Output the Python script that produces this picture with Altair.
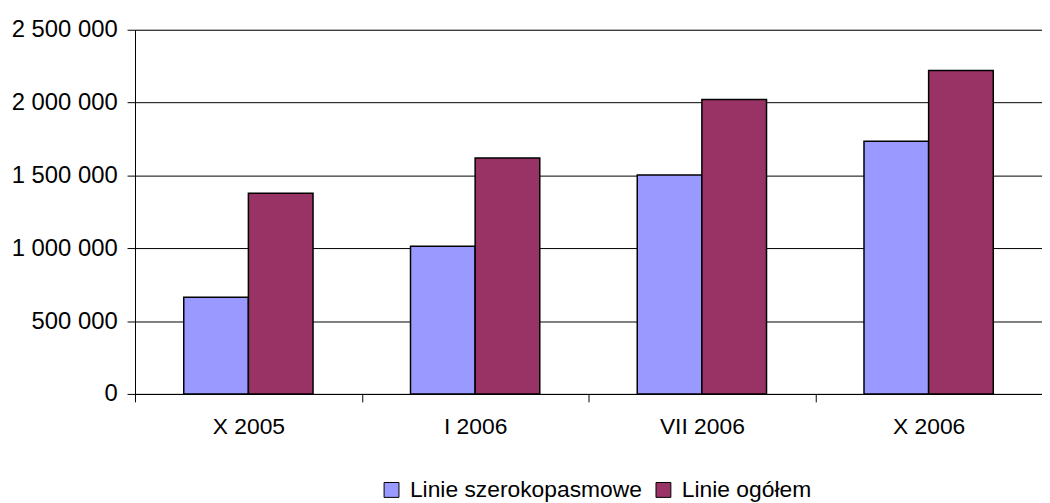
import altair as alt
import pandas as pd

categories = ["X 2005", "I 2006", "VII 2006", "X 2006"]
series = ["Linie szerokopasmowe", "Linie ogółem"]
broadband = [663000, 1013000, 1503000, 1735000]
total = [1378000, 1619000, 2021000, 2221000]
y_ticks = [0, 500000, 1000000, 1500000, 2000000, 2500000]
colors = ["#9999FF", "#993366"]

rows = []
for c, b, t in zip(categories, broadband, total):
    rows.append({"period": c, "series": series[0], "value": b})
    rows.append({"period": c, "series": series[1], "value": t})
df = pd.DataFrame(rows)

FONT = "Liberation Sans"
FS = 23

chart = alt.Chart(df).mark_bar(stroke="black", strokeWidth=1.5).encode(
    x=alt.X(
        "period:N",
        sort=categories,
        scale=alt.Scale(paddingInner=0, paddingOuter=0),
        axis=alt.Axis(
            title=None, labelAngle=0, tickBand="extent", tickSize=8,
            tickColor="black", domainColor="black", labelColor="black",
            labelFont=FONT, labelFontSize=FS, labelPadding=14, grid=False,
        ),
    ),
    xOffset=alt.XOffset("series:N", sort=series,
                        scale=alt.Scale(paddingInner=0, paddingOuter=0.754)),
    y=alt.Y(
        "value:Q",
        scale=alt.Scale(domain=[0, 2500000], nice=False),
        axis=alt.Axis(
            title=None, values=y_ticks, grid=True, gridColor="black",
            gridWidth=1, tickSize=8, tickColor="black", domainColor="black",
            labelColor="black", labelFont=FONT, labelFontSize=24,
            labelPadding=10,
            labelExpr="join(split(format(datum.value, ','), ','), ' ')",
        ),
    ),
    color=alt.Color(
        "series:N",
        sort=series,
        scale=alt.Scale(domain=series, range=colors),
        legend=alt.Legend(
            title=None, orient="none", legendX=247, legendY=452,
            direction="horizontal", symbolType="square", symbolSize=225,
            symbolStrokeColor="black", symbolStrokeWidth=1,
            labelFont=FONT, labelFontSize=FS, labelColor="black",
            labelOffset=7, columnPadding=10, labelLimit=0,
        ),
    ),
).properties(
    width=914,
    height=367,
    padding={"left": 128, "top": 20, "right": 0, "bottom": 108},
    autosize=alt.AutoSizeParams(type="none"),
).configure_view(stroke=None).configure(background="white")

chart.save("out.html", embed_options={"renderer": "svg", "actions": False})
